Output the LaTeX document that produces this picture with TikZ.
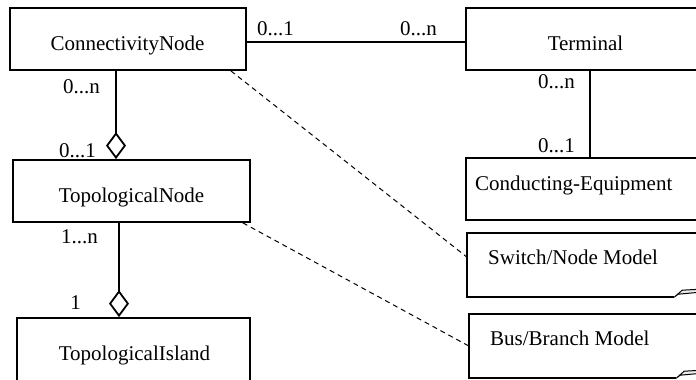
\documentclass[tikz,border=0pt]{standalone}
\usepackage{fontspec}
\setmainfont{Liberation Serif}
\usetikzlibrary{arrows.meta}
\begin{document}
\begin{tikzpicture}[x=1pt,y=-1pt,
  box/.style={draw, line width=1.8pt, inner sep=0pt},
  note/.style={inner sep=0pt},
  txt/.style={font=\fontsize{21}{24}\selectfont, inner sep=0pt, anchor=base},
  txtw/.style={txt, anchor=base west},
  link/.style={line width=1.8pt},
  dep/.style={line width=1pt, dash pattern=on 5pt off 4pt},
  agg/.style={link, {Diamond[open,length=27pt,width=20pt]}-},
  curl/.style={line width=1pt, fill=gray!15, line join=miter}
]
\useasboundingbox (0,0) rectangle (696,380);

% boxes
\node[box, minimum width=236pt, minimum height=62pt] (cn) at (128,39) {};
\node[box, minimum width=238pt, minimum height=62pt] (term) at (585,39) {};
\node[box, minimum width=238pt, minimum height=62pt] (ce) at (585,189) {};
\node[box, minimum width=237pt, minimum height=62pt] (tn) at (131.5,191) {};
\node[box, minimum width=233pt, minimum height=68pt] (ti) at (133.5,352) {};
\node[note, minimum width=233pt, minimum height=64pt] (sn) at (583.5,265) {};
\node[note, minimum width=233pt, minimum height=64pt] (bb) at (585.5,346) {};

% box texts
\node[txt] (cnt) at (127.5,50) {ConnectivityNode};
\node[txt] (termt) at (585.5,50) {Terminal};
\node[txtw] (cet) at (475,190) {Conducting-Equipment};
\node[txt] (tnt) at (131.5,202) {TopologicalNode};
\node[txt] (tit) at (134.5,360) {TopologicalIsland};
\node[txtw] (snt) at (488,264) {Switch/Node Model};
\node[txtw] (bbt) at (490,345) {Bus/Branch Model};

% note outlines
\draw[line width=1.8pt] ([xshift=-26pt]sn.south east) -- (sn.south west) -- (sn.north west) -- (sn.north east);
\draw[curl] ([xshift=-26pt]sn.south east) -- ([xshift=-18pt,yshift=7pt]sn.south east) -- ([yshift=8pt]sn.south east) -- ([yshift=5pt]sn.south east) -- ([xshift=-22pt,yshift=3pt]sn.south east) -- cycle;
\draw[line width=1.8pt] ([xshift=-26pt]bb.south east) -- (bb.south west) -- (bb.north west) -- (bb.north east);
\draw[curl] ([xshift=-26pt]bb.south east) -- ([xshift=-18pt,yshift=7pt]bb.south east) -- ([yshift=8pt]bb.south east) -- ([yshift=5pt]bb.south east) -- ([xshift=-22pt,yshift=3pt]bb.south east) -- cycle;

% connectors
\draw[link] ([yshift=-3pt]cn.east) -- ([yshift=-3pt]term.west);
\draw[link] ([xshift=5pt]term.south) -- ([xshift=5pt]term.south |- ce.north);
\draw[agg] ([xshift=-12pt]cn.south |- tn.north) -- ([xshift=-12pt]cn.south);
\draw[agg] ([xshift=-12.5pt]tn.south |- ti.north) -- ([xshift=-12.5pt]tn.south);
\draw[dep] ([xshift=-16pt]cn.south east) -- ([yshift=8pt]sn.west);
\draw[dep] ([xshift=-8pt]tn.south east) -- (bb.west);

% multiplicities
\node[txt] (m1) at (275.5,35) {0...1};
\node[txt] (m2) at (418.5,35) {0...n};
\node[txt] (m3) at (556.5,88) {0...n};
\node[txt] (m4) at (556.5,152) {0...1};
\node[txt] (m5) at (81.5,93) {0...n};
\node[txt] (m6) at (77.5,157) {0...1};
\node[txt] (m7) at (79.5,243) {1...n};
\node[txt] (m8) at (75.5,309) {1};
\end{tikzpicture}
\end{document}
